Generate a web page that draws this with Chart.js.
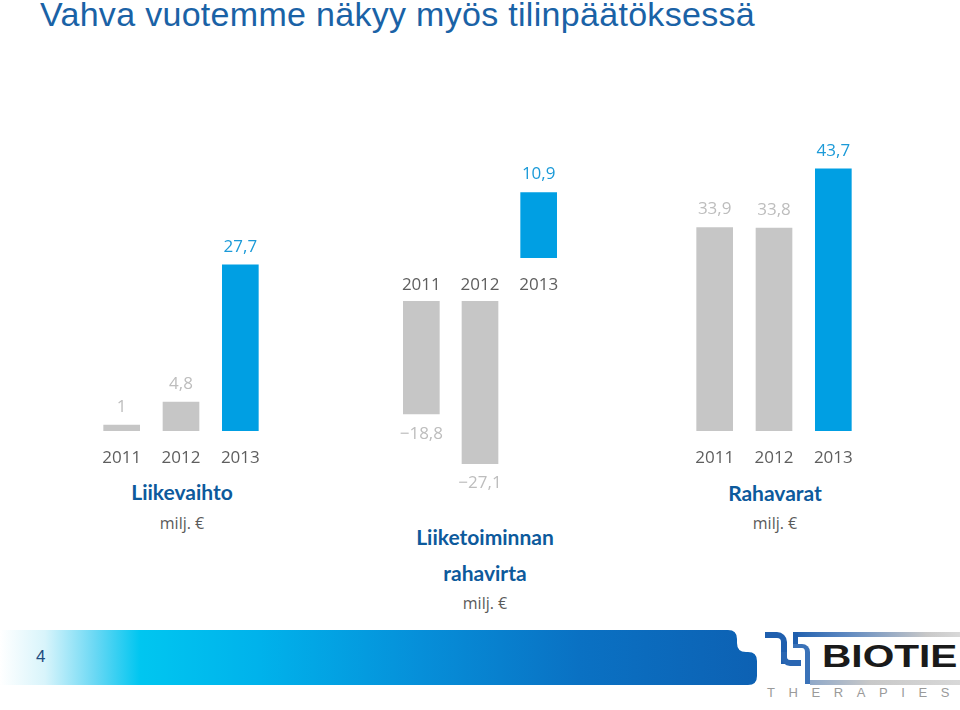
<!DOCTYPE html>
<html>
<head>
<meta charset="utf-8">
<script src="https://cdn.jsdelivr.net/npm/chart.js@4.4.1/dist/chart.umd.min.js"></script>
<style>
  html, body { margin:0; padding:0; background:#fff; }
  body { width:960px; height:710px; overflow:hidden; position:relative; font-family:"Open Sans", sans-serif; }
  .abs { position:absolute; }
  .box { position:absolute; }
  .title { left:40px; top:-3px; font-family:"Liberation Sans", Arial, sans-serif; font-size:34px; letter-spacing:0.3px; line-height:34px; color:#1a62a6; white-space:nowrap; }
  .ctitle { font-family:Lato, "Open Sans", sans-serif; font-weight:700; font-size:21px; color:#0d5a9c; text-align:center; white-space:nowrap; line-height:24px; }
  .unit { font-family:"Open Sans", sans-serif; font-size:16px; color:#5a5a5a; text-align:center; white-space:nowrap; line-height:20px; }
  .footer { left:0; top:630px; width:760px; height:55px;
    background:linear-gradient(90deg, #ffffff 0px, #d8f4fb 45px, #6ad8f4 95px, #00c6f0 140px, #00b2eb 260px, #068fd9 420px, #0a71c3 580px, #0d61b3 757px);
    clip-path:path('M0 0 H728 Q737 0 737 9 V13 Q737 22 746 22 H748 Q757 22 757 31 V46 Q757 55 748 55 H0 Z'); }
  .pnum { left:36px; top:647px; font-family:"Liberation Sans", Arial, sans-serif; font-size:17px; color:#1d4c80; }
  .logo { font-family:"Liberation Sans", Arial, sans-serif; font-weight:700; color:#1a1a1a; }
</style>
</head>
<body>
<div class="abs title">Vahva vuotemme näkyy myös tilinpäätöksessä</div>

<div class="box" style="left:92px; top:221px; width:178px; height:250px;"><canvas id="c1"></canvas></div>
<div class="box" style="left:392px; top:156px; width:176px; height:142px;"><canvas id="c2a"></canvas></div>
<div class="box" style="left:392px; top:301px; width:176px; height:210px;"><canvas id="c2b"></canvas></div>
<div class="box" style="left:685px; top:131px; width:178px; height:340px;"><canvas id="c3"></canvas></div>

<div class="abs ctitle" style="left:82px; width:200px; top:480px;">Liikevaihto</div>
<div class="abs unit" style="left:82px; width:200px; top:513px;">milj. €</div>

<div class="abs ctitle" style="left:380px; width:210px; top:525px;">Liiketoiminnan</div>
<div class="abs ctitle" style="left:380px; width:210px; top:561px;">rahavirta</div>
<div class="abs unit" style="left:380px; width:210px; top:593px;">milj. €</div>

<div class="abs ctitle" style="left:675px; width:200px; top:481px;">Rahavarat</div>
<div class="abs unit" style="left:675px; width:200px; top:513px;">milj. €</div>

<div class="abs footer"></div>
<div class="abs pnum">4</div>

<!-- logo mark -->
<div class="abs" style="left:765px; top:632px; width:16px; height:26px; border-top:6px solid #1f5fae; border-right:6px solid #1f5fae; border-top-right-radius:10px;"></div>
<div class="abs" style="left:781px; top:652px; width:14px; height:8px; border-left:6px solid #2a66b2; border-bottom:6px solid #2a66b2; border-bottom-left-radius:9px;"></div>
<div class="abs" style="left:793px; top:632px; width:167px; height:5px; background:linear-gradient(90deg,#1f5fae,#5a86c0 30%,#c8c8c8 80%,#d8d8d8);"></div>
<div class="abs" style="left:793px; top:632px; width:5px; height:15px; background:#1f5fae;"></div>
<div class="abs" style="left:793px; top:644px; width:12px; height:36px; border-top:4px solid #3a72b8; border-right:5px solid #3a72b8; border-top-right-radius:8px;"></div>
<div class="abs" style="left:810px; top:680px; width:150px; height:5px; background:linear-gradient(90deg,#8fa8c8,#c8c8c8 40%,#d8d8d8);"></div>
<div class="abs logo" style="left:822px; top:638px; font-size:32px; line-height:36px; transform:scaleX(1.27); transform-origin:left top;">BIOTIE</div>
<div class="abs" style="left:767px; top:685px; font-family:'Liberation Sans', Arial, sans-serif; font-size:13px; letter-spacing:13.6px; color:#9a9a9a;">THERAPIES</div>

<script>
// ---- data ----
const years = ['2011', '2012', '2013'];
const liikevaihto = [1, 4.8, 27.7];          // Liikevaihto, milj. €
const rahavirta = [-18.8, -27.1, 10.9];      // Liiketoiminnan rahavirta, milj. €
const rahavarat = [33.9, 33.8, 43.7];        // Rahavarat, milj. €

const GRAY = '#c6c6c6';
const BLUE = '#009fe3';
const barColors = [GRAY, GRAY, BLUE];
const labelColors = ['#bdbdbd', '#bdbdbd', '#1b9ad8'];

function fmt(v) {
  const s = Math.abs(v).toString().replace('.', ',');
  return v < 0 ? '\u2212' + s : s;
}

const valueLabels = {
  id: 'valueLabels',
  afterDatasetsDraw(chart) {
    const ctx = chart.ctx;
    chart.data.datasets.forEach((ds, di) => {
      const meta = chart.getDatasetMeta(di);
      meta.data.forEach((bar, i) => {
        const v = ds.data[i];
        if (v === null || v === undefined) return;
        ctx.save();
        ctx.font = '17px "Open Sans", sans-serif';
        ctx.fillStyle = labelColors[i];
        ctx.textAlign = 'center';
        ctx.textBaseline = 'middle';
        const y = v >= 0 ? bar.y - 18 : bar.y + 20;
        ctx.fillText(fmt(v), bar.x, y);
        ctx.restore();
      });
    });
  }
};

function makeChart(id, data, yMin, yMax, showX, padTop, padBottom) {
  const xScale = {
    display: showX,
    grid: { display: false },
    border: { display: false },
    ticks: {
      color: '#5e5e5e',
      font: { family: '"Open Sans", sans-serif', size: 17 },
      padding: 9,
      maxRotation: 0
    }
  };
  if (showX) xScale.afterFit = (scale) => { scale.height = 40; };
  return new Chart(document.getElementById(id), {
    type: 'bar',
    data: {
      labels: years,
      datasets: [{
        data: data,
        backgroundColor: barColors,
        borderWidth: 0,
        barThickness: 36
      }]
    },
    options: {
      responsive: true,
      maintainAspectRatio: false,
      animation: false,
      layout: { padding: { top: padTop, bottom: padBottom, left: 0, right: 0 } },
      plugins: { legend: { display: false }, tooltip: { enabled: false } },
      scales: {
        x: xScale,
        y: { display: false, min: yMin, max: yMax }
      }
    },
    plugins: [valueLabels]
  });
}

makeChart('c1', liikevaihto, 0, 30, true, 30, 0);
makeChart('c2a', rahavirta.map(v => v >= 0 ? v : null), 0, 12, true, 30, 0);
makeChart('c2b', rahavirta.map(v => v < 0 ? v : null), -30, 0, false, 0, 30);
makeChart('c3', rahavarat, 0, 45, true, 30, 0);
</script>
</body>
</html>
